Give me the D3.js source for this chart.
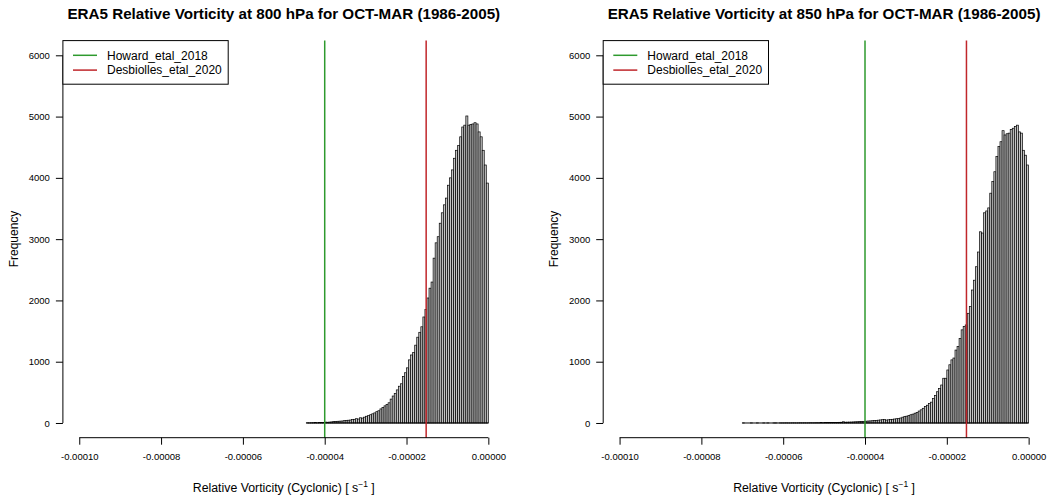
<!DOCTYPE html>
<html>
<head>
<meta charset="utf-8">
<script src="https://cdn.jsdelivr.net/npm/d3@7"></script>
<style>
  body { margin: 0; background: #fff; }
  text { font-family: "Liberation Sans", Arial, sans-serif; fill: #000; }
</style>
</head>
<body>
<svg id="chart" width="1047" height="501"></svg>
<script>
// histogram settings (bin width in s^-1)
var binWidth = 0.0000005;

// 800 hPa panel: first bin starts at -4.45e-5
var start800 = -0.0000445;
var counts800 = [
  3, 2, 4, 5, 6, 4, 8, 6, 10, 14,
  12, 15, 18, 22, 25, 28, 30, 32, 38, 42,
  45, 48, 55, 60, 70, 65, 85, 80, 95, 110,
  120, 135, 150, 165, 185, 200, 230, 255, 280, 300,
  330, 390, 440, 480, 540, 600, 640, 760, 820, 900,
  1030, 1110, 1150, 1270, 1400, 1480, 1570, 1730, 1850, 2040,
  2200, 2300, 2690, 2940, 3040, 3260, 3430, 3560, 3670, 3880,
  4000, 4130, 4320, 4450, 4530, 4670, 4830, 4860, 5010, 4860,
  4870, 4880, 4900, 4880, 4750, 4670, 4450, 4210, 3915
];

// 850 hPa panel: first bin starts at -7.0e-5
var start850 = -0.00007;
var counts850 = [
  1, 0, 0, 0, 1, 0, 0, 1, 0, 0,
  1, 0, 1, 0, 0, 1, 1, 0, 1, 1,
  1, 2, 1, 1, 2, 2, 1, 2, 3, 2,
  3, 2, 3, 4, 3, 4, 5, 4, 6, 5,
  6, 7, 6, 8, 8, 9, 10, 11, 12, 20,
  13, 14, 15, 16, 18, 20, 21, 23, 25, 27,
  29, 32, 34, 37, 40, 43, 46, 50, 54, 58,
  48, 52, 56, 60, 65, 70, 75, 82, 95, 105,
  112, 120, 135, 145, 160, 170, 195, 215, 240, 270,
  290, 320, 340, 400, 450, 510, 565, 620, 730, 730,
  865, 950, 1030, 1060, 1190, 1250, 1380, 1520, 1575, 1600,
  1790, 1900, 2170, 2330, 2550, 2790, 3120, 3100, 3430, 3460,
  3510, 3750, 3940, 4100, 4350, 4510, 4590, 4770, 4700, 4720,
  4730, 4790, 4810, 4840, 4860, 4750, 4730, 4450, 4370, 4210
];

// thresholds
var howard = -0.00004;
var desbiolles = -0.0000152;

var titles = [
  "ERA5 Relative Vorticity at 800 hPa for OCT-MAR (1986-2005)",
  "ERA5 Relative Vorticity at 850 hPa for OCT-MAR (1986-2005)"
];
var xTicks = [-0.0001, -0.00008, -0.00006, -0.00004, -0.00002, 0];
var yTicks = [0, 1000, 2000, 3000, 4000, 5000, 6000];
var legendLabels = ["Howard_etal_2018", "Desbiolles_etal_2020"];
var legendColors = ["#2e9a2e", "#c0262b"];

var svg = d3.select("#chart");

var panels = [
  { start: start800, counts: counts800, title: titles[0], dx: 0 },
  { start: start850, counts: counts850, title: titles[1], dx: 540.3 }
];

panels.forEach(function(p) {
  var g = svg.append("g").attr("transform", "translate(" + p.dx + ",0)");

  var x = d3.scaleLinear().domain([-0.000104, 0.000004]).range([62.9, 504.7]);
  var y = d3.scaleLinear().domain([-240, 6240]).range([437.7, 40.6]);

  var bins = p.counts.map(function(c, i) {
    return { x0: p.start + i * binWidth, x1: p.start + (i + 1) * binWidth, n: c };
  });

  // bars
  g.append("g")
    .selectAll("rect")
    .data(bins)
    .enter()
    .append("rect")
    .attr("x", function(d) { return x(d.x0); })
    .attr("width", function(d) { return x(d.x1) - x(d.x0); })
    .attr("y", function(d) { return y(d.n); })
    .attr("height", function(d) { return y(0) - y(d.n); })
    .attr("fill", "#c4c4c4")
    .attr("stroke", "#000")
    .attr("stroke-width", 0.7);

  // bottom border of the bars (zero-height bins included)
  g.append("line")
    .attr("x1", x(bins[0].x0)).attr("x2", x(bins[bins.length - 1].x1))
    .attr("y1", y(0)).attr("y2", y(0))
    .attr("stroke", "#000").attr("stroke-width", 1);

  // threshold lines
  g.append("line")
    .attr("x1", x(howard)).attr("x2", x(howard))
    .attr("y1", 40.6).attr("y2", 437.7)
    .attr("stroke", legendColors[0]).attr("stroke-width", 1.5);
  g.append("line")
    .attr("x1", x(desbiolles)).attr("x2", x(desbiolles))
    .attr("y1", 40.6).attr("y2", 437.7)
    .attr("stroke", legendColors[1]).attr("stroke-width", 1.5);

  // x axis
  var xAxis = g.append("g")
    .attr("transform", "translate(0,437.7)")
    .call(d3.axisBottom(x).tickValues(xTicks).tickSize(7).tickPadding(9)
      .tickFormat(function(d) { return d.toFixed(5); }));
  xAxis.select(".domain").attr("d", "M" + x(-0.0001) + ",0H" + x(0));
  xAxis.selectAll("text").style("font-size", "9.5px").attr("fill", "#000");

  // y axis
  var yAxis = g.append("g")
    .attr("transform", "translate(62.9,0)")
    .call(d3.axisLeft(y).tickValues(yTicks).tickSize(7).tickPadding(6)
      .tickFormat(d3.format("d")));
  yAxis.select(".domain").attr("d", "M0," + y(0) + "V" + y(6000));
  yAxis.selectAll("text").style("font-size", "9.5px").attr("fill", "#000");

  // title
  g.append("text")
    .attr("x", 283.8).attr("y", 19)
    .attr("text-anchor", "middle")
    .style("font-size", "15.2px").style("font-weight", "bold")
    .text(p.title);

  // axis labels
  g.append("text")
    .attr("transform", "translate(18,239) rotate(-90)")
    .attr("text-anchor", "middle")
    .style("font-size", "12px")
    .text("Frequency");

  var xl = g.append("text")
    .attr("x", 283.8).attr("y", 492)
    .attr("text-anchor", "middle")
    .style("font-size", "12.3px");
  xl.append("tspan").text("Relative Vorticity (Cyclonic) [ s");
  xl.append("tspan").attr("dy", -5).style("font-size", "8.5px").text("\u22121");
  xl.append("tspan").attr("dy", 5).text(" ]");

  // legend
  var lg = g.append("g");
  lg.append("rect")
    .attr("x", 62.9).attr("y", 40.6).attr("width", 165.3).attr("height", 43.6)
    .attr("fill", "#fff").attr("stroke", "#000").attr("stroke-width", 1);
  legendLabels.forEach(function(lab, i) {
    var ly = 55.3 + i * 14.8;
    lg.append("line")
      .attr("x1", 73).attr("x2", 97).attr("y1", ly).attr("y2", ly)
      .attr("stroke", legendColors[i]).attr("stroke-width", 1.5);
    lg.append("text")
      .attr("x", 107).attr("y", ly + 4.3)
      .style("font-size", "12px")
      .text(lab);
  });
});
</script>
</body>
</html>
